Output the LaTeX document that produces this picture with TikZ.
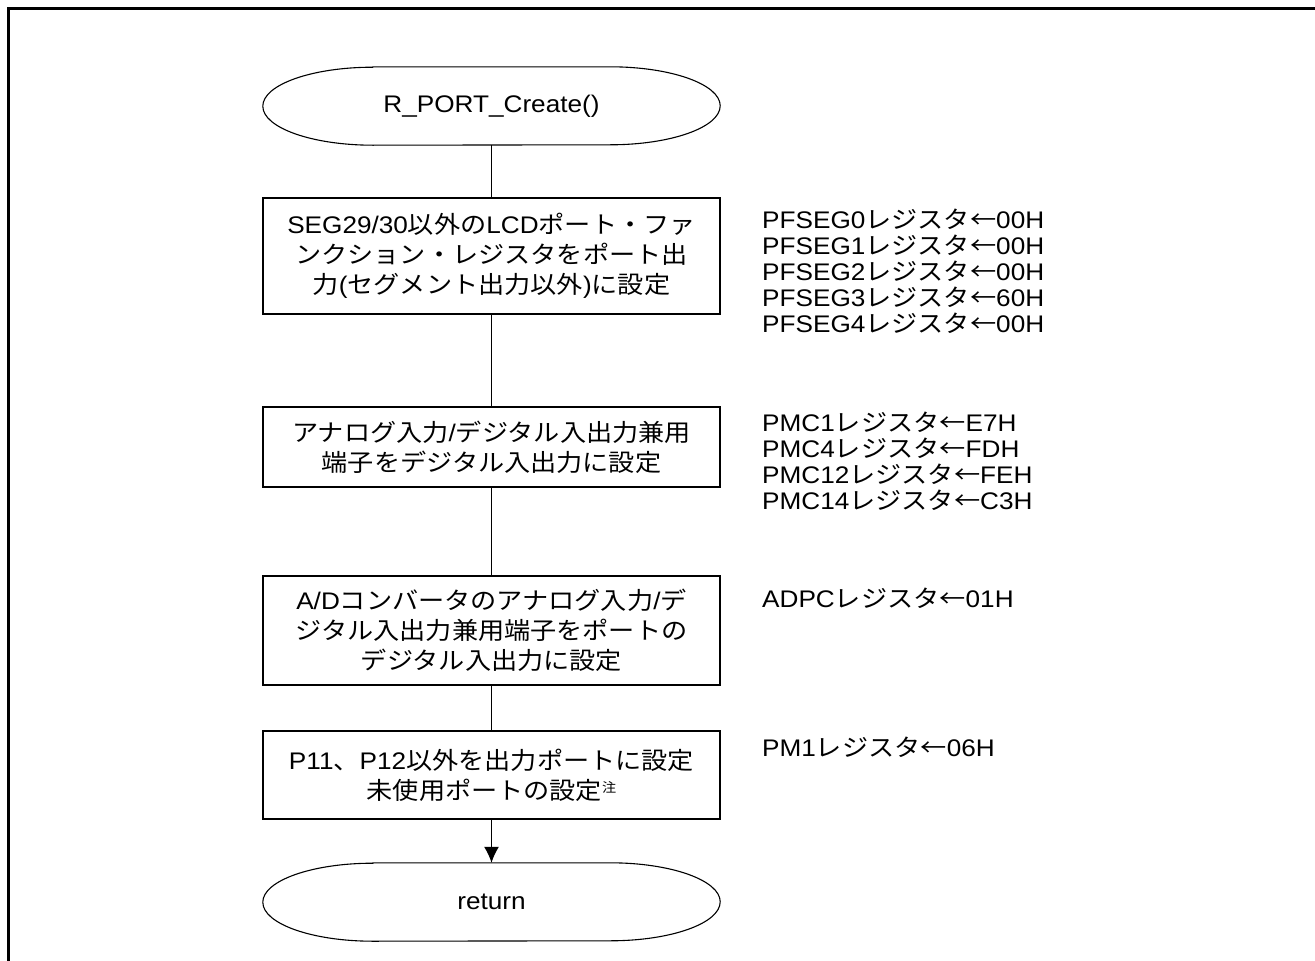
\documentclass[tikz,border=0pt]{standalone}
\usepackage{fontspec}
\setmainfont{Liberation Sans}[FakeStretch=1.09]
\newfontfamily\jp{Noto Sans CJK JP}[FakeStretch=1.09]
\newcommand\J[1]{{\jp #1}}
\usetikzlibrary{arrows.meta}
\tikzset{
  flowbox/.style={draw, line width=1.5pt, minimum width=457pt, inner sep=0pt, align=center,
    font=\fontsize{24}{30}\selectfont},
  term/.style={minimum width=457pt, minimum height=78pt, inner sep=0pt,
    font=\fontsize{24}{30}\selectfont},
  termline/.style={line width=1.1pt},
  conn/.style={line width=1.3pt},
  reglabel/.style={anchor=west, align=left, inner sep=0pt,
    font=\fontsize{24}{26}\selectfont},
  frameline/.style={line width=2.2pt}
}
\begin{document}
\begin{tikzpicture}[x=1pt,y=-1pt]
\useasboundingbox (0,0) rectangle (1315,961);
\draw[frameline] (8.5,970) -- (8.5,8.5) -- (1320,8.5);

\node[term] (s) at (491.5,106) {R\_PORT\_Create()};
\draw[termline] ([xshift=110pt]s.north west) -- ([xshift=-110pt]s.north east)
  arc[start angle=90,end angle=-90,x radius=110pt,y radius=39pt]
  -- ([xshift=110pt]s.south west)
  arc[start angle=270,end angle=90,x radius=110pt,y radius=39pt] -- cycle;

\node[flowbox, minimum height=116pt] (b1) at (491.5,256)
  {SEG29/30\J{以外の}LCD\J{ポート・ファ}\\
   \J{ンクション・レジスタをポート出}\\
   \J{力}(\J{セグメント出力以外})\J{に設定}};
\node[flowbox, minimum height=80pt] (b2) at (491.5,447)
  {\J{アナログ入力}/\J{デジタル入出力兼用}\\
   \J{端子をデジタル入出力に設定}};
\node[flowbox, minimum height=109pt] (b3) at (491.5,630.5)
  {A/D\J{コンバータのアナログ入力}/\J{デ}\\
   \J{ジタル入出力兼用端子をポートの}\\
   \J{デジタル入出力に設定}};
\node[flowbox, minimum height=88pt] (b4) at (491.5,775)
  {P11\J{、}P12\J{以外を出力ポートに設定}\\
   \J{未使用ポートの設定}\raisebox{0.55ex}{\fontsize{13}{13}\selectfont\J{注}}};

\node[term] (e) at (491.5,902) {return};
\draw[termline] ([xshift=110pt]e.north west) -- ([xshift=-110pt]e.north east)
  arc[start angle=90,end angle=-90,x radius=110pt,y radius=39pt]
  -- ([xshift=110pt]e.south west)
  arc[start angle=270,end angle=90,x radius=110pt,y radius=39pt] -- cycle;

\draw[conn] (s) -- (b1);
\draw[conn] (b1) -- (b2);
\draw[conn] (b2) -- (b3);
\draw[conn] (b3) -- (b4);
\draw[conn, -{Latex[length=16pt,width=15pt]}] (b4) -- (e);

\node[reglabel] (r1) at (762,271)
  {PFSEG0\J{レジスタ←}00H\\
   PFSEG1\J{レジスタ←}00H\\
   PFSEG2\J{レジスタ←}00H\\
   PFSEG3\J{レジスタ←}60H\\
   PFSEG4\J{レジスタ←}00H};
\node[reglabel] (r2) at (762,461.5)
  {PMC1\J{レジスタ←}E7H\\
   PMC4\J{レジスタ←}FDH\\
   PMC12\J{レジスタ←}FEH\\
   PMC14\J{レジスタ←}C3H};
\node[reglabel] (r3) at (762,598) {ADPC\J{レジスタ←}01H};
\node[reglabel] (r4) at (762,747) {PM1\J{レジスタ←}06H};
\end{tikzpicture}
\end{document}
